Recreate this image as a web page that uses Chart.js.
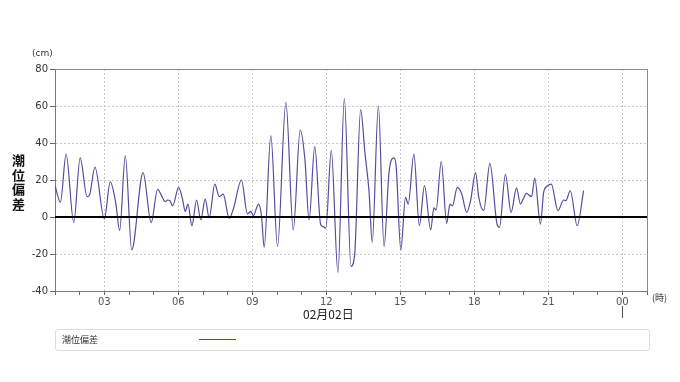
<!DOCTYPE html>
<html>
<head>
<meta charset="utf-8">
<script src="https://cdn.jsdelivr.net/npm/chart.js@4"></script>
<style>
body{margin:0;background:#fff;}
#wrap{position:relative;width:680px;height:382px;overflow:hidden;}
#chart{position:absolute;left:0;top:0;}
.txt{position:absolute;white-space:nowrap;color:#333;}
#unitY{left:32px;top:48px;font:9px "DejaVu Sans";}
#unitX{left:652px;top:291px;font:9px "Noto Sans CJK JP";}
#ytitle{left:11px;top:153px;width:15px;font:bold 13px "Noto Sans CJK JP";line-height:14.5px;color:#111;text-align:center;}
#date{left:303px;top:305px;font:12px "Noto Sans CJK JP";color:#222;}
#legend{position:absolute;left:55px;top:329px;width:593px;height:20px;border:1px solid #ddd;border-radius:3px;}
#legend span{position:absolute;left:6px;top:3px;font:9px "Noto Sans CJK JP";color:#333;}
#legend i{position:absolute;left:143px;top:9px;width:37px;border-top:1px solid #5b4a9c;}
</style>
</head>
<body>
<div id="wrap">
  <canvas id="chart" width="680" height="382"></canvas>
  <div class="txt" id="unitY">(cm)</div>
  <div class="txt" id="unitX">(時)</div>
  <div class="txt" id="ytitle">潮<br>位<br>偏<br>差</div>
  <div class="txt" id="date">02月02日</div>
  <div id="legend"><span>潮位偏差</span><i></i></div>
</div>
<script>
// hours of 02/02 (decimal), tide deviation in cm
const hours = [1.0,1.22,1.45,1.76,2.02,2.30,2.39,2.62,3.0,3.24,3.47,3.62,3.85,4.11,4.57,4.90,5.16,
  5.29,5.47,5.56,5.66,5.77,6.01,6.17,6.28,6.39,6.55,6.74,6.91,7.09,7.25,7.48,7.66,7.82,8.06,8.23,
  8.56,8.80,8.94,9.04,9.25,9.37,9.48,9.75,10.02,10.36,10.66,10.94,11.13,11.30,11.53,11.77,11.87,
  11.98,12.20,12.47,12.73,13.0,13.15,13.39,13.57,13.73,13.86,14.11,14.34,14.54,14.74,14.83,15.02,
  15.21,15.32,15.55,15.77,15.98,16.23,16.36,16.45,16.66,16.88,17.01,17.11,17.31,17.49,17.69,17.85,
  18.05,18.18,18.38,18.63,18.92,19.02,19.26,19.49,19.71,19.87,19.98,20.11,20.32,20.45,20.68,20.81,
  20.95,21.12,21.39,21.62,21.71,21.89,22.17,22.43];
const deviation = [17,8,34,-3,32,11,11.5,27,-1,19,7,-7.4,33,-17.8,24,-3,15,
  12.4,8.3,9.2,8.8,6,16,9.7,3,7,-4.7,9.2,-1.6,9.7,-0.5,17.8,11,12.4,-0.7,4.3,
  20,1.6,3,0.7,7,0.7,-16.4,44,-16,62,-7,47,31.4,-1.6,38,-4.1,-5.2,
  -6,36,-30,64,-26.7,-20,58,34,14,-13.7,60,-16,24,32,27.5,-17.8,
  10.6,7,34,-4.7,17,-7,4.9,3.8,30,-3.4,7,6,16,12.4,2.5,9,
  24,10.6,3.4,29,-3.8,-5.6,23,2.5,15.7,7,9.7,12.8,11,21,-3.8,13.3,
  16.6,17.8,3.4,9.2,8.8,14.2,-4.7,14.2];
const yTicks = [-40,-20,0,20,40,60,80];
const xLabelEvery = 3;

const lineColor = '#5b4a9c';
const gridColor = '#c8c8c8';

const frame = {
  id: 'frame',
  afterDatasetsDraw(chart){
    const {ctx, chartArea: a, scales: {x, y}} = chart;
    ctx.save();
    ctx.strokeStyle = '#8a8a8a';
    ctx.lineWidth = 1;
    ctx.beginPath();
    ctx.moveTo(a.left, a.top + 0.5);
    ctx.lineTo(a.right + 0.5, a.top + 0.5);
    ctx.lineTo(a.right + 0.5, a.bottom);
    ctx.stroke();
    const y0 = Math.round(y.getPixelForValue(0));
    ctx.strokeStyle = '#000';
    ctx.lineWidth = 2;
    ctx.beginPath();
    ctx.moveTo(a.left, y0);
    ctx.lineTo(a.right, y0);
    ctx.stroke();
    // day change marker under 00
    const xd = Math.round(x.getPixelForValue(24)) + 0.5;
    ctx.strokeStyle = '#555';
    ctx.lineWidth = 1;
    ctx.beginPath();
    ctx.moveTo(xd, a.bottom + 15);
    ctx.lineTo(xd, a.bottom + 27);
    ctx.stroke();
    ctx.restore();
  }
};

new Chart(document.getElementById('chart'), {
  type: 'line',
  data: {
    datasets: [{
      label: '潮位偏差',
      data: hours.map((h, i) => ({x: h, y: deviation[i]})),
      borderColor: lineColor,
      borderWidth: 1.2,
      pointRadius: 0,
      cubicInterpolationMode: 'monotone',
      fill: false
    }]
  },
  options: {
    responsive: false,
    animation: false,
    devicePixelRatio: 1,
    layout: {padding: {left: 0, top: 69, right: 33, bottom: 61}},
    plugins: {legend: {display: false}, tooltip: {enabled: false}},
    scales: {
      x: {
        type: 'linear',
        min: 1, max: 25,
        afterFit: s => { s.height = 30; },
        afterBuildTicks: s => { s.ticks = Array.from({length: 25}, (_, i) => ({value: i + 1})); },
        ticks: {
          autoSkip: false, maxRotation: 0, padding: 1,
          color: '#555', font: {family: 'DejaVu Sans', size: 10},
          callback: v => v % xLabelEvery === 0 ? String(v % 24).padStart(2, '0') : ''
        },
        grid: {
          color: c => (c.tick && c.tick.value % xLabelEvery === 0 && c.tick.value < 25) ? gridColor : 'rgba(0,0,0,0)',
          tickColor: '#666', tickLength: 4
        },
        border: {color: '#7a7a7a', dash: [2, 2]}
      },
      y: {
        min: -40, max: 80,
        afterFit: s => { s.width = 55; },
        afterBuildTicks: s => { s.ticks = yTicks.map(v => ({value: v})); },
        ticks: {color: '#333', padding: 2, font: {family: 'DejaVu Sans', size: 10}},
        grid: {
          color: c => (c.tick && (c.tick.value === 0 || c.tick.value === 80 || c.tick.value === -40)) ? 'rgba(0,0,0,0)' : gridColor,
          tickColor: '#666', tickLength: 5
        },
        border: {color: '#7a7a7a', dash: [2, 2]}
      }
    }
  },
  plugins: [frame]
});
</script>
</body>
</html>
